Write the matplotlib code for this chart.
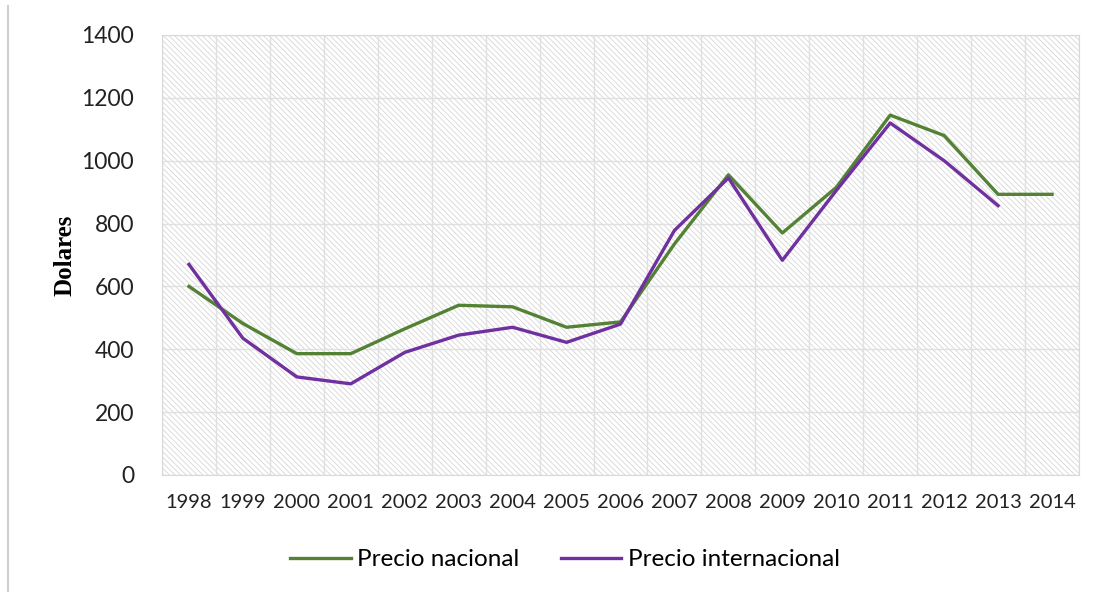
import matplotlib
matplotlib.use("Agg")
import matplotlib.pyplot as plt
from matplotlib.patches import Rectangle
from matplotlib.lines import Line2D
import numpy as np

# Datos
anios = ["1998", "1999", "2000", "2001", "2002", "2003", "2004", "2005", "2006",
         "2007", "2008", "2009", "2010", "2011", "2012", "2013", "2014"]
precio_nacional = [600, 482, 386, 386, 465, 540, 535, 470, 487,
                   735, 955, 770, 915, 1145, 1080, 893, 893]
precio_internacional = [670, 435, 312, 290, 390, 445, 470, 422, 480,
                        778, 945, 683, 905, 1120, 1000, 857, None]
yticks = [0, 200, 400, 600, 800, 1000, 1200, 1400]

plt.rcParams['font.family'] = ['Lato', 'DejaVu Sans']
plt.rcParams['hatch.color'] = '#d6d6d6'
plt.rcParams['hatch.linewidth'] = 0.6

fig = plt.figure(figsize=(10.99, 5.97), dpi=100)
ax = fig.add_axes([0.1474, 0.2044, 0.8344, 0.737])

x = np.arange(len(anios))
inter = np.array([np.nan if v is None else v for v in precio_internacional], dtype=float)

ax.plot(x, precio_nacional, color='#548235', lw=2.4, label='Precio nacional', zorder=3)
ax.plot(x, inter, color='#7030A0', lw=2.4, label='Precio internacional', zorder=3)

# Fondo rayado
ax.add_patch(Rectangle((0, 0), 1, 1, transform=ax.transAxes, facecolor='white',
                       edgecolor='#d6d6d6', hatch='\\' * 6, lw=0, zorder=0))

ax.set_xlim(-0.5, len(anios) - 0.5)
ax.set_ylim(0, 1400)
ax.set_yticks(yticks)
ax.set_xticks(x)
ax.set_xticklabels(anios)
ax.set_xticks(np.arange(-0.5, len(anios), 0.5), minor=True)
ax.tick_params(axis='y', length=0, pad=20, labelsize=16.5, labelcolor='#222222')
ax.tick_params(axis='x', which='both', length=0, pad=14, labelsize=14.5, labelcolor='#222222')
ax.grid(axis='y', color='#e0e0e0', lw=1, zorder=1)
ax.grid(axis='x', which='minor', color='#e0e0e0', lw=1, zorder=1)
ax.set_axisbelow(True)
for s in ax.spines.values():
    s.set_color('#d9d9d9')

fig.text(65 / 1099, 0.573, 'Dolares', rotation=90, ha='center', va='center',
         fontsize=18, fontweight='bold', family='Liberation Serif')

fig.legend(loc='center', bbox_to_anchor=(0.514, 0.062), ncol=2, frameon=False,
           fontsize=17.5, handlelength=2.5, handletextpad=0.25, columnspacing=1.7)

fig.add_artist(Line2D([8 / 1099, 8 / 1099], [0.01, 0.99], color='#d0d0d0', lw=1.5,
                      transform=fig.transFigure))

fig.savefig('out.png', dpi=100)
